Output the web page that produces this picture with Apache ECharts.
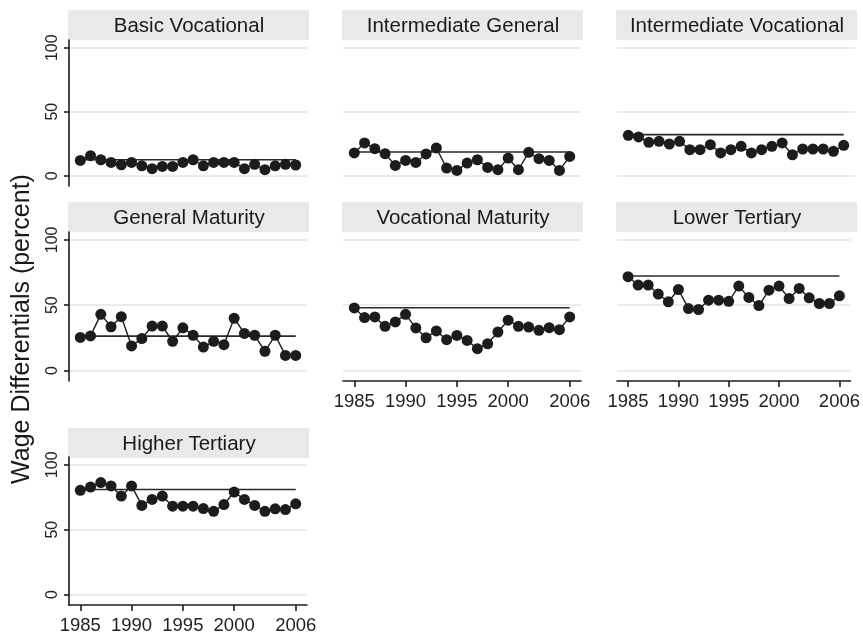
<!DOCTYPE html>
<html>
<head>
<meta charset="utf-8">
<title>Wage Differentials</title>
<script src="https://cdn.jsdelivr.net/npm/echarts@6/dist/echarts.min.js"></script>
<style>
    html, body { margin: 0; padding: 0; background: #fff; }
    #chart { width: 863px; height: 639px; }
</style>
</head>
<body>
<div id="chart"></div>
<script>
// years on the x axis
var years = [1985, 1986, 1987, 1988, 1989, 1990, 1991, 1992, 1993, 1994, 1995,
             1996, 1997, 1998, 1999, 2000, 2001, 2002, 2003, 2004, 2005, 2006];
var xTicks = [1985, 1990, 1995, 2000, 2006];
var yTicks = [0, 50, 100];

var panelTitles = ['Basic Vocational', 'Intermediate General', 'Intermediate Vocational',
                   'General Maturity', 'Vocational Maturity', 'Lower Tertiary', 'Higher Tertiary'];

// wage differentials (percent) per education level
var basicVocational = [12, 15.7, 12.5, 10.4, 8.6, 10.4, 7.8, 5.5, 7.3, 7.3, 10.4, 12.5, 7.8, 10.4, 10.4, 10.4, 5.5, 8.9, 4.7, 7.8, 8.9, 8.4];
var intermediateGeneral = [17.8, 25.6, 21.1, 17.2, 8.1, 12, 10.4, 17, 21.7, 6, 4.2, 9.9, 12.5, 6.5, 4.7, 13.8, 4.7, 18.3, 13.3, 12, 4.2, 15.1];
var intermediateVocational = [31.6, 30.3, 26.1, 26.9, 24.8, 26.9, 20.4, 20.4, 24.3, 17.8, 20.4, 23, 17.8, 20.4, 23, 25.6, 16.4, 20.9, 20.9, 20.9, 19.1, 23.8];
var generalMaturity = [25.3, 26.5, 43, 33.5, 41.2, 18.8, 24.5, 34, 34, 22.4, 32.7, 27, 18, 22.4, 19.8, 40, 28.4, 27, 14.7, 27, 11.6, 11.6];
var vocationalMaturity = [47.9, 40.5, 41, 33.8, 37.2, 43, 32.6, 25.1, 30.3, 23.6, 26.9, 23, 16.7, 20.5, 29.5, 38.5, 33.8, 33.3, 30.8, 32.8, 31.3, 41];
var lowerTertiary = [71.8, 65.4, 65.4, 58.5, 52.6, 62, 47.4, 46.7, 53.8, 53.8, 53, 64.6, 55.9, 49.7, 61.5, 64.6, 55.1, 62.8, 55.6, 51.3, 51.3, 57.2];
var higherTertiary = [80.3, 82.9, 86.3, 83.7, 75.9, 83.7, 68.7, 73.3, 75.9, 68.1, 68.1, 68.1, 66.3, 64.2, 69.4, 79, 73.3, 68.7, 64.2, 66.1, 65.5, 69.9];

// horizontal reference level (1985 value) for each panel
var baseLevels = [12.5, 18.5, 32.1, 26.3, 48, 72.3, 81];

var seriesValues = [basicVocational, intermediateGeneral, intermediateVocational,
                    generalMaturity, vocationalMaturity, lowerTertiary, higherTertiary];

// layout: column lefts, row tops/heights, header tops
var colLeft = [69, 343, 617];
var rowTop = [40, 232, 457];
var rowHeight = [146, 149, 148];
var headTop = [10, 202, 428];
var panelCol = [0, 1, 2, 0, 1, 2, 0];
var panelRow = [0, 0, 0, 1, 1, 1, 2];
var showX = [false, false, false, false, true, true, true];

var font = 'Liberation Sans, Arial, Helvetica, sans-serif';
var ink = '#1c1c1c';

var chart = echarts.init(document.getElementById('chart'), null, {renderer: 'canvas'});

var grids = [], xAxes = [], yAxes = [], series = [], graphics = [];

panelTitles.forEach(function (title, i) {
    var c = panelCol[i], r = panelRow[i];
    var firstCol = c === 0;

    grids.push({
        left: colLeft[c], top: rowTop[r], width: 238, height: rowHeight[r],
        containLabel: false
    });

    xAxes.push({
        type: 'value', gridIndex: i,
        min: 1983.9, max: 2007.1,
        show: showX[i],
        axisLine: {show: true, onZero: false, lineStyle: {color: ink, width: 1.6}},
        axisTick: {show: true, length: 6, customValues: xTicks, lineStyle: {color: ink, width: 1.6}},
        axisLabel: {show: true, customValues: xTicks, margin: 11, fontSize: 18.5,
                    fontFamily: font, color: '#222',
                    formatter: function (v) { return String(v); }},
        splitLine: {show: false}
    });

    yAxes.push({
        type: 'value', gridIndex: i,
        min: -8, max: 106,
        axisLine: {show: firstCol, lineStyle: {color: ink, width: 1.6}},
        axisTick: {show: firstCol, length: 5, customValues: yTicks, lineStyle: {color: ink, width: 1.6}},
        axisLabel: {show: firstCol, customValues: yTicks, rotate: 90, margin: 8,
                    fontSize: 16, fontFamily: font, color: '#222'},
        splitLine: {show: true, lineStyle: {color: '#e4e4e4', width: 1.6}}
    });

    //参考水平线
    series.push({
        type: 'line', xAxisIndex: i, yAxisIndex: i,
        data: [[years[0], baseLevels[i]], [years[years.length - 1], baseLevels[i]]],
        symbol: 'none', silent: true, z: 2,
        lineStyle: {color: '#2a2a2a', width: 1.6}
    });

    series.push({
        type: 'line', name: title, xAxisIndex: i, yAxisIndex: i,
        data: years.map(function (y, k) { return [y, seriesValues[i][k]]; }),
        symbol: 'circle', symbolSize: 11, z: 3,
        itemStyle: {color: ink},
        lineStyle: {color: ink, width: 1.4}
    });

    // panel header strip
    graphics.push({
        type: 'rect', left: colLeft[c] - 1, top: headTop[r],
        shape: {width: 241, height: 30},
        style: {fill: '#e9e9ea'}, silent: true
    });
    graphics.push({
        type: 'text', x: colLeft[c] + 120, y: headTop[r] + 16,
        style: {text: title, font: '20.5px ' + font, fill: '#1a1a1a',
                textAlign: 'center', textVerticalAlign: 'middle',
                align: 'center', verticalAlign: 'middle'},
        silent: true
    });
});

// shared y-axis title
graphics.push({
    type: 'text', x: 22, y: 329, rotation: Math.PI / 2,
    style: {text: 'Wage Differentials (percent)', font: '25px ' + font, fill: '#1a1a1a',
            textAlign: 'center', textVerticalAlign: 'middle',
            align: 'center', verticalAlign: 'middle'},
    silent: true
});

chart.setOption({
    animation: false,
    backgroundColor: '#fff',
    grid: grids,
    xAxis: xAxes,
    yAxis: yAxes,
    series: series,
    graphic: graphics
});
</script>
</body>
</html>
